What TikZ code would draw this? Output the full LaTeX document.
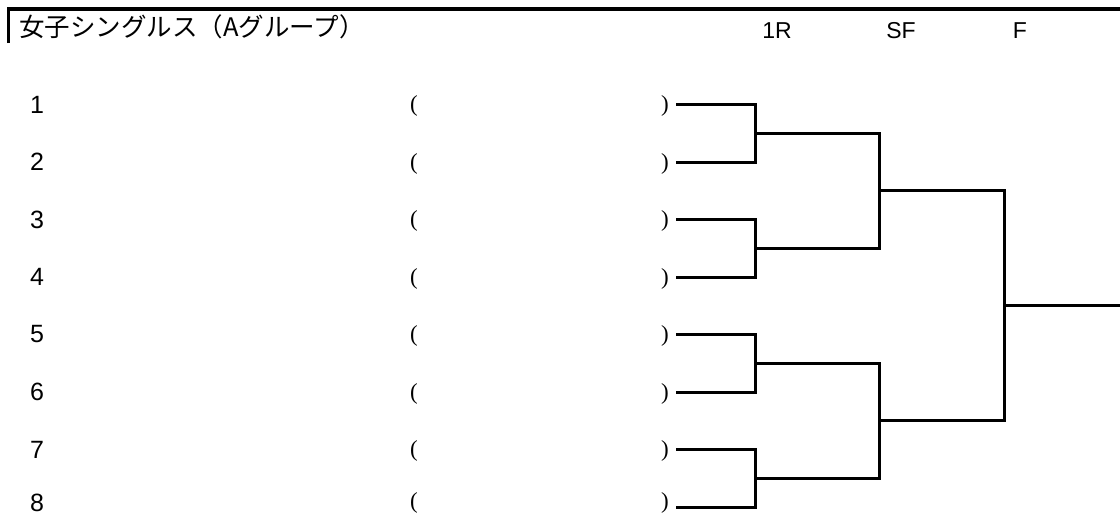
\documentclass[tikz,border=0pt]{standalone}
\usepackage{fontspec}
\setmainfont{Liberation Sans}
\newfontfamily\jpfont{Noto Sans CJK JP}
\newfontfamily\parfont{Liberation Serif}
\begin{document}
\begin{tikzpicture}[x=1pt,y=-1pt,
  bline/.style={line width=3pt,line cap=rect,line join=miter},
  numtxt/.style={font=\fontsize{25}{27}\selectfont,inner sep=0pt,anchor=center},
  partxt/.style={font=\parfont\fontsize{23}{25}\selectfont,inner sep=0pt,anchor=center},
  hdtxt/.style={font=\fontsize{23}{25}\selectfont,inner sep=0pt,anchor=center}]
\useasboundingbox (0,0) rectangle (1120,517);
% header frame
\coordinate (hl) at (8.5,9);
\coordinate (hr) at (1120,9);
\coordinate (hb) at (8.5,43);
\draw[line width=3.2pt] (hb) -- (hl) -- (hr);
\node[font=\jpfont\fontsize{25.5}{27}\selectfont,anchor=west,inner sep=0pt] (title) at (19,27) {女子シングルス（Aグループ）};
\node[hdtxt] (r1) at (777,30.5) {1R};
\node[hdtxt] (sf) at (901,30.5) {SF};
\node[hdtxt] (fi) at (1020,30.5) {F};
% players
\foreach \i in {1,...,8}{
  \pgfmathsetmacro{\yy}{104.5+57.5*(\i-1)}
  \pgfmathsetmacro{\ny}{min(\yy,503)}
  \pgfmathsetmacro{\py}{min(\yy+1.5,503)}
  \node[numtxt] (n\i) at (37,\ny) {\i};
  \node[partxt] (lp\i) at (414,\py) {(};
  \node[partxt] (rp\i) at (665,\py) {)};
  \coordinate (p\i) at (677,\yy);
}
% 1R junctions
\coordinate (a1) at (755,133.25);
\coordinate (a2) at (755,248.25);
\coordinate (a3) at (755,363.25);
\coordinate (a4) at (755,478.25);
\draw[bline] (p1) -| (a1) |- (p2);
\draw[bline] (p3) -| (a2) |- (p4);
\draw[bline] (p5) -| (a3) |- (p6);
\draw[bline] (p7) -| (a4) |- (p8);
% SF
\coordinate (b1) at (879,190.75);
\coordinate (b2) at (879,420.75);
\draw[bline] (a1) -| (b1) |- (a2);
\draw[bline] (a3) -| (b2) |- (a4);
% F
\coordinate (c1) at (1004,305.75);
\coordinate (w) at (1120,305.75);
\draw[bline] (b1) -| (c1) |- (b2);
\draw[line width=3pt] (c1) -- (w);
\end{tikzpicture}
\end{document}
